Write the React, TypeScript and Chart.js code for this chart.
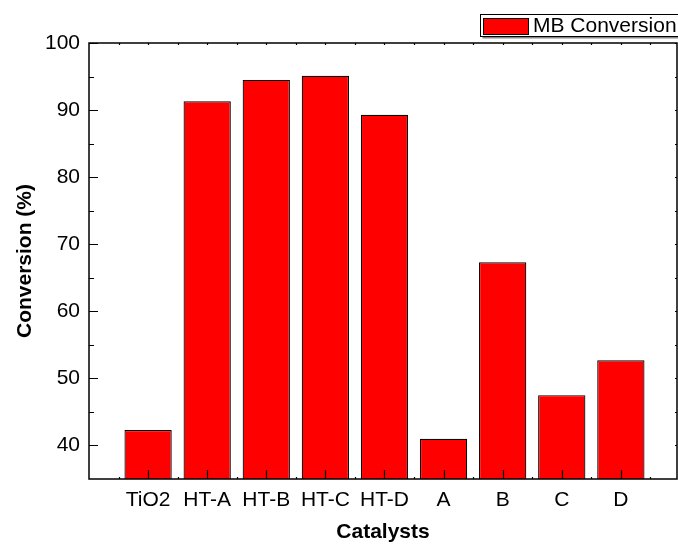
import { useEffect, useRef } from 'react';
import { Chart, registerables } from 'chart.js';

Chart.register(...registerables);

const categories = ['TiO2', 'HT-A', 'HT-B', 'HT-C', 'HT-D', 'A', 'B', 'C', 'D'];
const conversion = [42.3, 91.3, 94.5, 95.1, 89.3, 41.0, 67.3, 47.5, 52.7];
const yMajorTicks = [40, 50, 60, 70, 80, 90, 100];
const yMinorTicks = [45, 55, 65, 75, 85, 95];
const seriesLabel = 'MB Conversion';
const xAxisTitle = 'Catalysts';
const yAxisTitle = 'Conversion (%)';

const FONT = '"Liberation Sans", Arial, Helvetica, sans-serif';

export default function App() {
  const ref = useRef<HTMLCanvasElement>(null);

  useEffect(() => {
    document.body.style.margin = '0';
    const canvas = ref.current;
    if (!canvas) return;

    const framePlugin = {
      id: 'frame',
      afterDatasetsDraw(chart: any) {
        const { ctx, chartArea: a, scales } = chart;
        const x = scales.x;
        const y = scales.y;
        ctx.save();
        ctx.strokeStyle = '#000';
        ctx.lineWidth = 1.5;
        ctx.strokeRect(a.left, a.top, a.right - a.left, a.bottom - a.top);
        ctx.lineWidth = 1.2;
        ctx.beginPath();
        yMajorTicks.forEach((v) => {
          const py = Math.round(y.getPixelForValue(v)) + 0.5;
          ctx.moveTo(a.left, py);
          ctx.lineTo(a.left + 9, py);
          ctx.moveTo(a.right, py);
          ctx.lineTo(a.right - 2, py);
        });
        yMinorTicks.forEach((v) => {
          const py = Math.round(y.getPixelForValue(v)) + 0.5;
          ctx.moveTo(a.left, py);
          ctx.lineTo(a.left + 5, py);
          ctx.moveTo(a.right, py);
          ctx.lineTo(a.right - 2, py);
        });
        categories.forEach((_, i) => {
          const px = Math.round(x.getPixelForValue(i + 1)) + 0.5;
          ctx.moveTo(px, a.bottom);
          ctx.lineTo(px, a.bottom - 9);
          ctx.moveTo(px, a.top);
          ctx.lineTo(px, a.top + 2);
        });
        for (let k = 0; k <= categories.length; k++) {
          const v = k + 0.5;
          if (v >= x.max) break;
          const px = Math.round(x.getPixelForValue(v)) + 0.5;
          ctx.moveTo(px, a.bottom);
          ctx.lineTo(px, a.bottom - 2);
          ctx.moveTo(px, a.top);
          ctx.lineTo(px, a.top + 2);
        }
        ctx.stroke();
        ctx.restore();
      },
      afterDraw(chart: any) {
        const { ctx } = chart;
        ctx.save();
        const bx = 480.5;
        const by = 14.5;
        const bw = 200;
        const bh = 22;
        ctx.fillStyle = '#888';
        ctx.fillRect(bx + 2, by + 2, bw, bh);
        ctx.fillStyle = '#fff';
        ctx.fillRect(bx, by, bw, bh);
        ctx.strokeStyle = '#000';
        ctx.lineWidth = 1;
        ctx.strokeRect(bx, by, bw, bh);
        ctx.fillStyle = '#ff0000';
        ctx.fillRect(483.5, 18.5, 45, 16);
        ctx.strokeRect(483.5, 18.5, 45, 16);
        ctx.fillStyle = '#000';
        ctx.font = `21px ${FONT}`;
        ctx.textBaseline = 'middle';
        ctx.textAlign = 'left';
        ctx.fillText(seriesLabel, 533, 26);
        ctx.restore();
      },
    };

    const chart = new Chart(canvas, {
      type: 'bar',
      data: {
        datasets: [
          {
            label: seriesLabel,
            data: conversion.map((v, i) => ({ x: i + 1, y: v })),
            backgroundColor: '#ff0000',
            borderColor: '#000',
            borderWidth: 1.2,
            barPercentage: 0.8,
            categoryPercentage: 1,
          },
        ],
      },
      options: {
        responsive: false,
        animation: false,
        devicePixelRatio: 1,
        layout: { padding: { top: 43, right: 1, left: 0, bottom: 0 } },
        plugins: {
          legend: { display: false },
          tooltip: { enabled: false },
        },
        scales: {
          x: {
            type: 'linear',
            offset: false,
            min: 0,
            max: 9.95,
            grid: { display: false, offset: false, drawTicks: false },
            border: { display: false },
            afterBuildTicks: (s: any) => {
              s.ticks = categories.map((_, i) => ({ value: i + 1 }));
            },
            afterFit: (s: any) => {
              s.height = 66;
            },
            ticks: {
              autoSkip: false,
              maxRotation: 0,
              color: '#000',
              padding: 9,
              font: { family: FONT, size: 21 },
              callback: (v: any) => categories[Number(v) - 1] ?? '',
            },
            title: {
              display: true,
              text: xAxisTitle,
              color: '#000',
              font: { family: FONT, size: 21, weight: 'bold' },
              padding: { top: 0, bottom: 0 },
            },
          },
          y: {
            type: 'linear',
            min: 35,
            max: 100,
            grid: { display: false, drawTicks: false },
            border: { display: false },
            afterBuildTicks: (s: any) => {
              s.ticks = yMajorTicks.map((v) => ({ value: v }));
            },
            afterFit: (s: any) => {
              s.width = 89;
            },
            ticks: {
              color: '#000',
              padding: 9,
              font: { family: FONT, size: 21 },
            },
            title: {
              display: true,
              text: yAxisTitle,
              color: '#000',
              font: { family: FONT, size: 21, weight: 'bold' },
              padding: { top: 13, bottom: 0 },
            },
          },
        },
      },
      plugins: [framePlugin],
    } as any);

    return () => chart.destroy();
  }, []);

  return (
    <div style={{ position: 'absolute', left: 0, top: 0, width: 678, height: 545 }}>
      <canvas ref={ref} width={678} height={545} style={{ display: 'block' }} />
    </div>
  );
}
